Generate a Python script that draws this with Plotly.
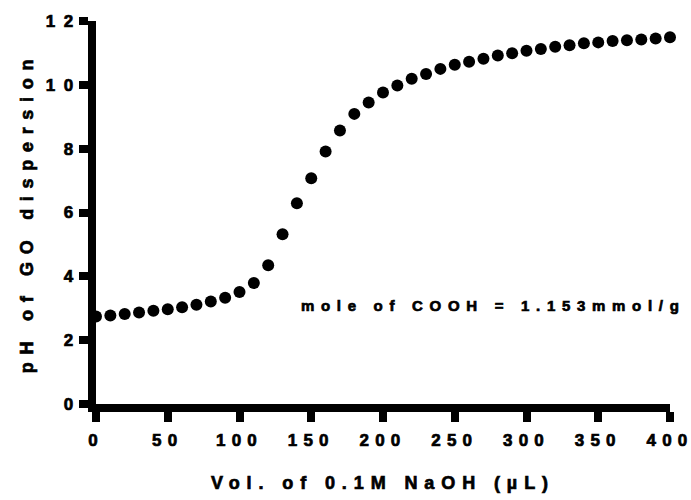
import plotly.graph_objects as go

volume_ul = [0, 10, 20, 30, 40, 50, 60, 70, 80, 90, 100, 110, 120, 130, 140, 150,
             160, 170, 180, 190, 200, 210, 220, 230, 240, 250, 260, 270, 280, 290,
             300, 310, 320, 330, 340, 350, 360, 370, 380, 390, 400]
ph_values = [2.74, 2.77, 2.82, 2.87, 2.92, 2.97, 3.03, 3.11, 3.21, 3.33, 3.51, 3.79,
             4.35, 5.32, 6.29, 7.07, 7.91, 8.57, 9.09, 9.45, 9.76, 9.98, 10.19, 10.34,
             10.50, 10.63, 10.72, 10.82, 10.92, 10.99, 11.07, 11.12, 11.19, 11.24,
             11.30, 11.33, 11.37, 11.40, 11.42, 11.45, 11.49]

x_tick_vals = [0, 50, 100, 150, 200, 250, 300, 350, 400]
x_tick_text = ["0", "50", "100", "150", "200", "250", "300", "350", "400"]
y_tick_vals = [0, 2, 4, 6, 8, 10, 12]
y_tick_text = ["0", "2", "4", "6", "8", "10", "12"]

x_title = "Vol. of 0.1M NaOH (µL)"
y_title = "pH of GO dispersion"
note_text = "mole of COOH = 1.153mmol/g"

FONT = "Liberation Sans"

fig = go.Figure()
fig.add_trace(go.Scatter(
    x=volume_ul, y=ph_values, mode="markers",
    marker=dict(color="black", size=12, symbol="circle", line=dict(width=0)),
    cliponaxis=False, showlegend=False,
))

fig.update_layout(
    width=691, height=500,
    margin=dict(l=96, r=21, t=21, b=96, autoexpand=False),
    paper_bgcolor="white", plot_bgcolor="white",
    annotations=[dict(
        x=276.5, y=3.1, xref="x", yref="y", text=note_text, showarrow=False,
        xanchor="center", yanchor="middle",
        font=dict(family=FONT, size=15, color="black", weight=700),
    )],
)
fig.update_xaxes(
    range=[0, 400], tickmode="array", tickvals=x_tick_vals, ticktext=x_tick_text,
    automargin=False,
    showgrid=False, zeroline=False, showline=True, linecolor="#000000", linewidth=8,
    ticks="outside", tickcolor="#000000", tickwidth=8, ticklen=10,
    ticklabelstandoff=4,
    tickfont=dict(family=FONT, size=17, color="black", weight=700),
    title=dict(text=x_title, standoff=30,
               font=dict(family=FONT, size=18, color="black", weight=700)),
)
fig.update_yaxes(
    range=[0, 12], tickmode="array", tickvals=y_tick_vals, ticktext=y_tick_text,
    automargin=False,
    showgrid=False, zeroline=False, showline=True, linecolor="#000000", linewidth=8,
    ticks="outside", tickcolor="#000000", tickwidth=8, ticklen=9,
    ticklabelstandoff=-6,
    tickfont=dict(family=FONT, size=17, color="black", weight=700),
    title=dict(text=y_title, standoff=27,
               font=dict(family=FONT, size=18, color="black", weight=700)),
)

post = """
var s=document.createElement('style');
s.textContent='.xtick text{letter-spacing:6.2px}.ytick text{letter-spacing:8.5px}'+
'.g-xtitle text{letter-spacing:6.9px}.g-ytitle text{letter-spacing:7.7px}'+
'.annotation-text{letter-spacing:6.7px}'+
'.xtick text,.ytick text,.g-xtitle text,.g-ytitle text,.annotation-text{stroke:#000;stroke-width:0.7px}';
document.head.appendChild(s);
"""

fig.write_html("out.html", post_script=post)
